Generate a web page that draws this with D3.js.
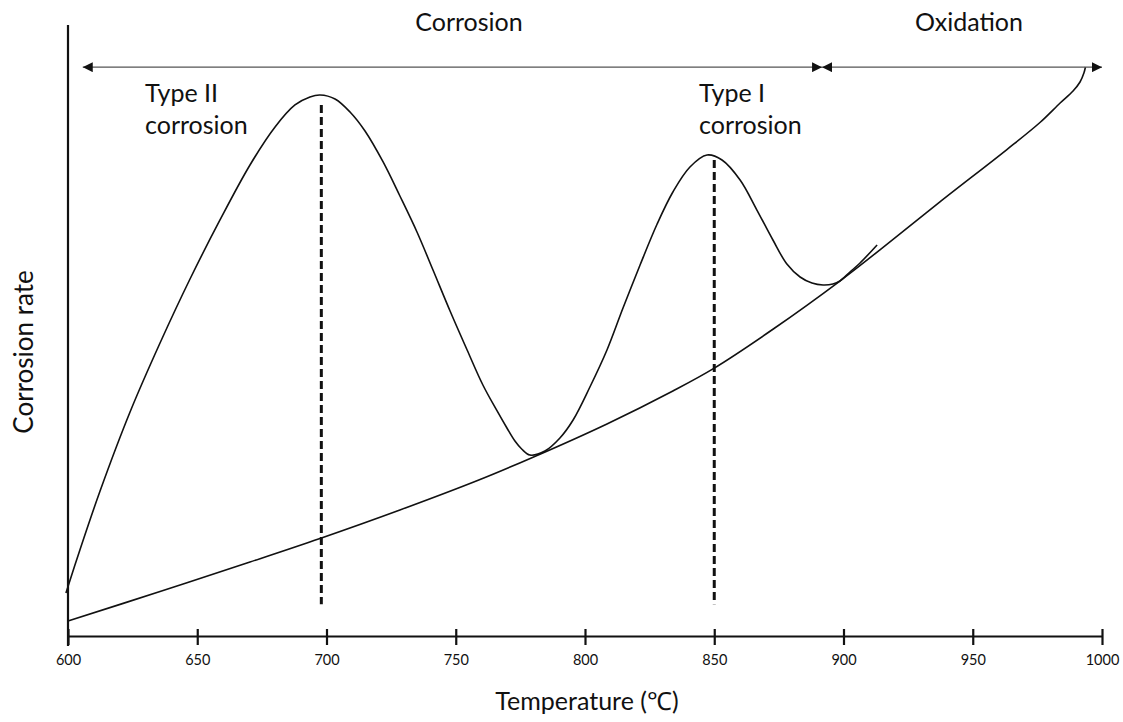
<!doctype html>
<html>
  <head>
    <meta charset="utf-8">
    <script src="https://cdn.jsdelivr.net/npm/d3@7"></script>
    <style>
      body { margin: 0; background: white; }
      svg text { font-family: Lato, "Open Sans", sans-serif; fill: #111; }
      .curve { fill: none; stroke: #111; stroke-width: 1.6px; }
    </style>
  </head>
  <body>
    <svg class="chart" width="1123" height="722"></svg>

    <script>
      // curves: temperature (°C) and relative rate (0-100)
      const baseTemp = [600, 635.6, 670.4, 697.5, 728.4, 759.4, 779.9, 808.5, 834, 849.5, 872.7, 898.6, 914.1, 937.3, 963.2, 976, 983.8, 988.8, 991.5, 993, 993.6]
      const baseRate = [2.45, 7.28, 12.11, 15.96, 20.62, 25.61, 29.26, 34.71, 40.11, 43.72, 50.2, 58.09, 63.19, 71.05, 79.61, 84.04, 87.23, 89.2, 90.67, 92.14, 93.13]

      const corrTemp = [599.2, 604.6, 612.4, 624, 635.6, 647.2, 658.8, 670.4, 680.1, 687.8, 693.6, 697.5, 703.3, 709.1, 714.9, 721.9, 728.4, 735, 741.2, 747.8, 754.4, 760.5, 766, 769.8, 772.9, 775.6, 778.7, 784.5, 790.3, 795.4, 801.9, 808.5, 814.7, 821.3, 827.9, 834, 840.6, 847.2, 853, 860, 866.5, 872.7, 878.1, 883.2, 887.8, 892.1, 895.9, 898.6, 902.5, 906.4, 913]
      const corrRate = [7.04, 14.08, 23.73, 36.66, 47.95, 58.43, 68.09, 77.09, 83.31, 86.91, 88.22, 88.54, 87.89, 85.76, 82.65, 77.58, 72.01, 66.12, 59.9, 53.19, 46.81, 41.08, 36.83, 34.04, 31.91, 30.56, 29.62, 30.28, 32.41, 35.35, 40.75, 46.81, 53.68, 60.72, 67.43, 72.67, 76.76, 78.72, 77.91, 74.63, 69.72, 64.81, 60.88, 58.76, 57.77, 57.45, 57.61, 58.1, 59.57, 61.05, 64.0]

      // dashed markers at the two peaks
      const peakTemp = [698, 850]
      const peakTop = [86.9, 77.9]
      const peakBottom = 5.2

      // regions along the top arrow
      const regionNames = ["Corrosion", "Oxidation"]
      const regionFrom = [605.7, 891.7]
      const regionTo = [891.7, 1000]
      const regionRate = 93.1

      const xTicks = [600, 650, 700, 750, 800, 850, 900, 950, 1000]

      const xScale = d3.scaleLinear().domain([600, 1000]).range([68, 1102])
      const yScale = d3.scaleLinear().domain([0, 100]).range([636, 25])

      const svg = d3.select(".chart")

      const defs = svg.append("defs")
      defs.append("marker")
          .attr("id", "head")
          .attr("viewBox", "0 0 10 10")
          .attr("refX", 10)
          .attr("refY", 5)
          .attr("markerWidth", 10)
          .attr("markerHeight", 10)
          .attr("markerUnits", "userSpaceOnUse")
          .attr("orient", "auto-start-reverse")
        .append("path")
          .attr("d", "M0,0L10,5L0,10Z")
          .attr("fill", "#111")

      // axes
      const xAxis = d3.axisBottom(xScale)
                      .tickValues(xTicks)
                      .tickSize(8)
                      .tickSizeOuter(0)
                      .tickFormat(d3.format("d"))

      const gx = svg.append("g")
          .attr("id", "x-axis")
          .attr("transform", "translate(0," + yScale(0) + ")")
          .call(xAxis)
      gx.select(".domain").attr("stroke", "#111").attr("stroke-width", 2.2)
      gx.selectAll(".tick line")
          .attr("y1", -7)
          .attr("y2", 9)
          .attr("stroke", "#111")
          .attr("stroke-width", 2.2)
      gx.selectAll(".tick text")
          .attr("y", 29)
          .attr("dy", null)
          .style("font-size", "14.5px")
          .style("font-family", "Lato, sans-serif")
          .attr("fill", "#111")

      svg.append("line")
          .attr("x1", xScale(600)).attr("x2", xScale(600))
          .attr("y1", yScale(100)).attr("y2", yScale(0) + 10)
          .attr("stroke", "#111")
          .attr("stroke-width", 2.2)

      svg.append("text")
          .attr("x", 587)
          .attr("y", 710)
          .attr("text-anchor", "middle")
          .style("font-size", "25px")
          .text("Temperature (℃)")

      svg.append("text")
          .attr("transform", "translate(33,352) rotate(-90)")
          .attr("text-anchor", "middle")
          .style("font-size", "26px")
          .text("Corrosion rate")

      // curves
      const line = d3.line()
                     .x((d) => xScale(d[0]))
                     .y((d) => yScale(d[1]))
                     .curve(d3.curveCatmullRom.alpha(0.5))

      svg.append("path")
          .attr("class", "curve")
          .attr("d", line(d3.zip(baseTemp, baseRate)))

      svg.append("path")
          .attr("class", "curve")
          .attr("d", line(d3.zip(corrTemp, corrRate)))

      svg.selectAll(".peak")
        .data(peakTemp)
        .enter().append("line")
          .attr("class", "peak")
          .attr("x1", (d) => xScale(d))
          .attr("x2", (d) => xScale(d))
          .attr("y1", (d, i) => yScale(peakTop[i]))
          .attr("y2", yScale(peakBottom))
          .attr("stroke", "#111")
          .attr("stroke-width", 3)
          .attr("stroke-dasharray", "8,4")

      // region arrows and names
      svg.selectAll(".region")
        .data(regionNames)
        .enter().append("line")
          .attr("class", "region")
          .attr("x1", (d, i) => xScale(regionFrom[i]))
          .attr("x2", (d, i) => xScale(regionTo[i]))
          .attr("y1", yScale(regionRate))
          .attr("y2", yScale(regionRate))
          .attr("stroke", "#555")
          .attr("stroke-width", 1.2)
          .attr("marker-start", "url(#head)")
          .attr("marker-end", "url(#head)")

      svg.selectAll(".region-name")
        .data(regionNames)
        .enter().append("text")
          .attr("class", "region-name")
          .attr("x", (d) => d == "Corrosion" ? 469 : 969)
          .attr("y", 31)
          .attr("text-anchor", "middle")
          .style("font-size", "25px")
          .text((d) => d)

      const peakLabels = [["Type II", "corrosion"], ["Type I", "corrosion"]]
      const peakLabelX = [145, 699]
      svg.selectAll(".peak-label")
        .data(peakLabels)
        .enter().append("text")
          .attr("class", "peak-label")
          .attr("x", (d, i) => peakLabelX[i])
          .attr("y", 102)
          .style("font-size", "25px")
        .selectAll("tspan")
        .data((d) => d)
        .enter().append("tspan")
          .attr("x", function() { return this.parentNode.getAttribute("x") })
          .attr("dy", (d, i) => i == 0 ? 0 : 32)
          .text((d) => d)
    </script>
  </body>
</html>
